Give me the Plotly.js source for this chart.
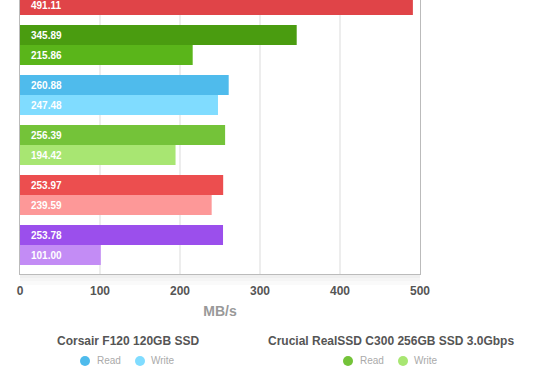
<!DOCTYPE html>
<html><head><meta charset="utf-8">
<script src="https://cdn.plot.ly/plotly-3.0.1.min.js"></script>
<style>html,body{margin:0;padding:0;background:#fff}#chart{width:560px;height:390px}</style>
</head><body><div id="chart"></div>
<script>
// ---- data ----
const drives = ['Drive A', 'Drive B', 'Corsair F120 120GB SSD', 'Crucial RealSSD C300 256GB SSD 3.0Gbps', 'Drive E', 'Drive F'];
const readValues  = [null, 345.89, 260.88, 256.39, 253.97, 253.78];
const writeValues = [491.11, 215.86, 247.48, 194.42, 239.59, 101.00];
const readColors  = ['#e04448', '#4a9c10', '#4fbbec', '#74c339', '#ec4e4f', '#9b4fec'];
const writeColors = ['#e04448', '#5ab51a', '#80dcff', '#a8e672', '#fd9898', '#c38cf5'];
const xTickValues = [0, 100, 200, 300, 400, 500];
const legendDrives = ['Corsair F120 120GB SSD', 'Crucial RealSSD C300 256GB SSD 3.0Gbps'];
const legendItems = ['Read', 'Write'];
const axisTitle = 'MB/s';

// ---- geometry helpers (pixels -> paper) ----
const M = {l: 20, r: 140, t: 0, b: 116};
const PW = 560 - M.l - M.r, PH = 390 - M.t - M.b;
const px2x = p => (p - M.l) / PW;
const px2y = p => (390 - M.b - p) / PH;

const FONT = 'Liberation Sans, Arial, Helvetica, sans-serif';
const BARGAP = 0.2;
const half = (1 - BARGAP) / 4; // centre offset of each of the 2 grouped bars

const traces = [
  {type: 'bar', orientation: 'h', name: 'Read', y: drives, x: readValues,
   marker: {color: readColors, line: {width: 0}}, hoverinfo: 'x'},
  {type: 'bar', orientation: 'h', name: 'Write', y: drives, x: writeValues,
   marker: {color: writeColors, line: {width: 0}}, hoverinfo: 'x'}
];

const annotations = [];
drives.forEach((d, i) => {
  [[readValues, -half], [writeValues, half]].forEach(([arr, off]) => {
    if (arr[i] == null) return;
    annotations.push({x: 0, y: i + off, xref: 'x', yref: 'y', xanchor: 'left', yanchor: 'middle',
      xshift: 10, showarrow: false, borderpad: 0,
      text: arr[i].toFixed(2), font: {family: FONT, size: 10, color: '#ffffff', weight: 'bold'}});
  });
});

const shapes = [];
// subtle shadow under the plot frame
[[10, 0.018], [6, 0.02], [3, 0.025]].forEach(([h, a]) => {
  shapes.push({type: 'rect', xref: 'paper', yref: 'paper', x0: 0, x1: 1,
    ysizemode: 'pixel', yanchor: 0, y0: -1, y1: -1 - h,
    fillcolor: 'rgba(0,0,0,' + a + ')', line: {width: 0}, layer: 'below'});
});

// custom legend blocks
const legendCenters = [128, 391];
const itemCircleOff = [-43, 12];
const itemTextOff = [-32.5, 21.5];
legendDrives.forEach((name, k) => {
  const idx = drives.indexOf(name);
  const cx = legendCenters[k];
  annotations.push({xref: 'paper', yref: 'paper', x: px2x(cx), y: px2y(341), xanchor: 'center', yanchor: 'middle',
    showarrow: false, borderpad: 0, text: name, font: {family: FONT, size: 12, color: '#555555', weight: 'bold'}});
  const cols = [readColors[idx], writeColors[idx]];
  legendItems.forEach((lab, j) => {
    shapes.push({type: 'circle', xref: 'paper', yref: 'paper', xsizemode: 'pixel', ysizemode: 'pixel',
      xanchor: px2x(cx + itemCircleOff[j]), yanchor: px2y(361), x0: -5, x1: 5, y0: -5, y1: 5,
      fillcolor: cols[j], line: {width: 0}});
    annotations.push({xref: 'paper', yref: 'paper', x: px2x(cx + itemTextOff[j]), y: px2y(361),
      xanchor: 'left', yanchor: 'middle', showarrow: false, borderpad: 0, text: lab,
      font: {family: FONT, size: 10, color: '#aaaaaa'}});
  });
});

const layout = {
  width: 560, height: 390,
  margin: {l: M.l, r: M.r, t: M.t, b: M.b, pad: 0},
  paper_bgcolor: '#ffffff', plot_bgcolor: '#ffffff',
  barmode: 'group', bargap: BARGAP, bargroupgap: 0,
  showlegend: false,
  font: {family: FONT},
  xaxis: {range: [0, 500], tickvals: xTickValues, showgrid: true, gridcolor: '#ededed', gridwidth: 1.5,
    zeroline: false, showline: true, linecolor: '#bbbbbb', linewidth: 1, mirror: false, ticks: '',
    ticklabelstandoff: 6,
    tickfont: {family: FONT, size: 12, color: '#555555', weight: 'bold'},
    title: {text: axisTitle, font: {family: FONT, size: 14, color: '#999999', weight: 'bold'}, standoff: 8},
    fixedrange: true},
  yaxis: {type: 'category', range: [5.58, 0.1], showticklabels: false, showgrid: false, zeroline: false,
    showline: true, linecolor: '#bbbbbb', linewidth: 1, mirror: true, ticks: '', fixedrange: true},
  annotations: annotations,
  shapes: shapes
};

Plotly.newPlot('chart', traces, layout, {displayModeBar: false, staticPlot: true});
</script></body></html>
